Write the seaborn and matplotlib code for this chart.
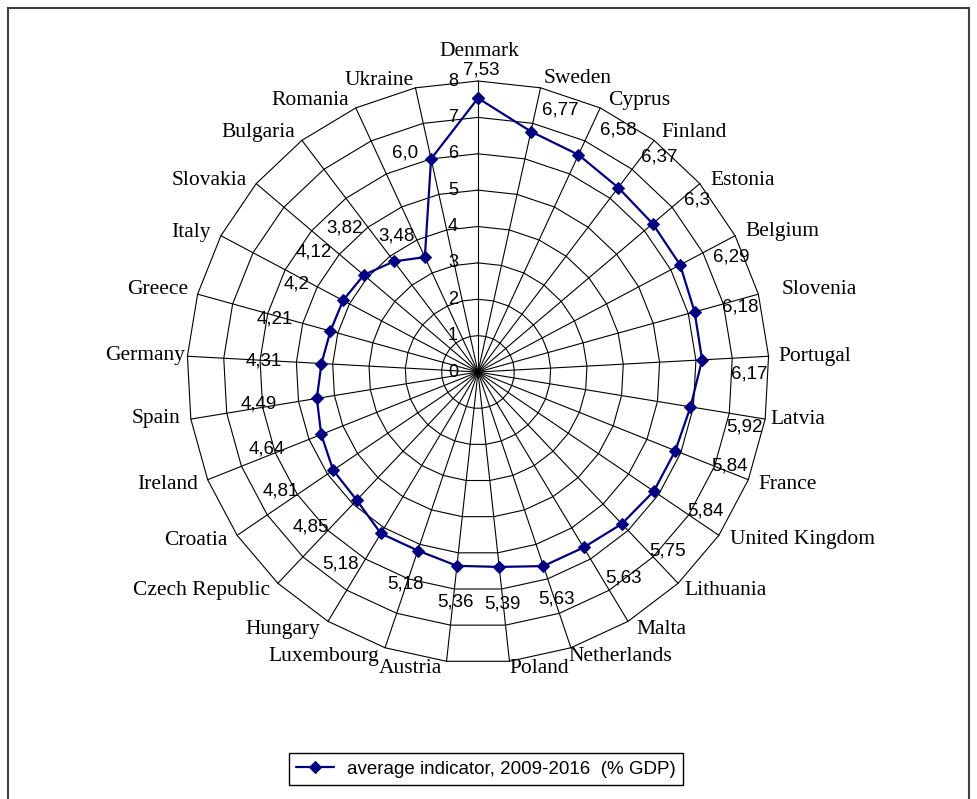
## radar chart: average indicator 2009-2016 (% GDP) per country
import numpy as np
import pandas as pd
import matplotlib
matplotlib.use('Agg')
import matplotlib.pyplot as plt
import matplotlib.transforms as mtransforms
from matplotlib.patches import Rectangle
import seaborn as sns

## data
countries = ['Denmark', 'Sweden', 'Cyprus', 'Finland', 'Estonia', 'Belgium', 'Slovenia',
             'Portugal', 'Latvia', 'France', 'United Kingdom', 'Lithuania', 'Malta',
             'Netherlands', 'Poland', 'Austria', 'Luxembourg', 'Hungary', 'Czech Republic',
             'Croatia', 'Ireland', 'Spain', 'Germany', 'Greece', 'Italy', 'Slovakia',
             'Bulgaria', 'Romania', 'Ukraine']
values = [7.53, 6.77, 6.58, 6.37, 6.30, 6.29, 6.18, 6.17, 5.92, 5.84, 5.84, 5.75, 5.63,
          5.63, 5.39, 5.36, 5.18, 5.18, 4.85, 4.81, 4.64, 4.49, 4.31, 4.21, 4.20, 4.12,
          3.82, 3.48, 6.0]
value_labels = ['7,53', '6,77', '6,58', '6,37', '6,3', '6,29', '6,18', '6,17', '5,92',
                '5,84', '5,84', '5,75', '5,63', '5,63', '5,39', '5,36', '5,18', '5,18',
                '4,85', '4,81', '4,64', '4,49', '4,31', '4,21', '4,2', '4,12', '3,82',
                '3,48', '6,0']
legend_label = 'average indicator, 2009-2016  (% GDP)'

## where the texts sit (degrees clockwise from top, radius in axis units)
name_theta = [0.2, 18.8, 30.6, 42.0, 54.1, 65.3, 76.5, 87.3, 98.4, 110.0, 117.3, 131.4,
              144.6, 153.4, 168.4, 192.9, 208.5, 217.1, 231.6, 239.1, 250.0, 261.7, 272.8,
              284.4, 296.0, 305.5, 317.5, 328.3, 341.3]
name_r = [8.82, 8.51, 8.68, 8.87, 8.99, 9.22, 9.66, 9.27, 8.89, 9.07, 10.05, 9.09, 8.69,
          8.76, 8.33, 8.37, 8.91, 8.88, 9.68, 9.03, 9.07, 8.94, 9.16, 9.08, 8.77, 9.08,
          8.94, 8.78, 8.47]
num_theta = [0.6, 17.4, 30.0, 40.2, 51.9, 65.6, 76.1, 90.4, 101.6, 110.5, 121.4, 133.3,
             144.7, 160.8, 174.1, 185.7, 199.0, 215.7, 227.1, 238.9, 250.0, 261.7, 272.9,
             284.6, 295.8, 306.2, 317.3, 329.2, 341.6]
num_r = [8.30, 7.54, 7.69, 7.74, 7.65, 7.66, 7.42, 7.47, 7.49, 7.39, 7.34, 7.17, 6.94,
         6.60, 6.41, 6.35, 6.16, 6.49, 6.26, 6.32, 6.17, 6.08, 5.89, 5.76, 5.55, 5.58,
         5.39, 4.35, 6.34]

## style
sns.set_style('white')
plt.rcParams['font.family'] = ['Liberation Sans', 'DejaVu Sans']
plt.rcParams['text.color'] = 'black'
navy = '#000080'

fig = plt.figure(figsize=(9.78, 7.99), dpi=100)
ax = fig.add_axes([0.1912, 0.1702, 0.5951, 0.7284], projection='polar')
ax.set_theta_zero_location('N')
ax.set_theta_direction(-1)
ax.set_ylim(0, 8)
ax.grid(False)
ax.set_xticks([])
ax.set_yticks([])
ax.spines['polar'].set_visible(False)

n = len(countries)
theta = np.deg2rad(np.arange(n) * 360.0 / n)
ring_theta = np.r_[theta, theta[0]]

# polygon grid like excel
for k in range(1, 9):
    ax.plot(ring_theta, np.full(n + 1, k), color='black', lw=0.8, clip_on=False, zorder=1)
for a in theta:
    ax.plot([a, a], [0, 8], color='black', lw=0.8, clip_on=False, zorder=1)

# data line
df = pd.DataFrame({'theta': np.r_[theta, 2 * np.pi], 'value': values + values[:1]})
sns.lineplot(data=df, x='theta', y='value', sort=False, estimator=None, ax=ax,
             color=navy, linewidth=1.6, marker='D', markersize=6,
             markeredgecolor=navy, markerfacecolor=navy, label=legend_label, zorder=3)
ax.set_xlabel('')
ax.set_ylabel('')
handles, labels = ax.get_legend_handles_labels()
if ax.get_legend() is not None:
    ax.get_legend().remove()

# radial tick labels left of the top spoke
shift = mtransforms.offset_copy(ax.transData, fig=fig, x=-20, y=0, units='dots')
for k in range(0, 9):
    ax.text(0, k, str(k), transform=shift, ha='right', va='center', fontsize=13,
            color='black')

# country names and value labels
for name, t, r in zip(countries, name_theta, name_r):
    ax.text(np.deg2rad(t), r, name, ha='center', va='center', fontsize=15.5,
            color='black', family=['Liberation Serif', 'DejaVu Serif'])
for lab, t, r in zip(value_labels, num_theta, num_r):
    ax.text(np.deg2rad(t), r, lab, ha='center', va='center', fontsize=13.5, color='black')

leg = fig.legend(handles, labels, loc='center', bbox_to_anchor=(0.497, 0.037),
                 frameon=True, fancybox=False, edgecolor='black', framealpha=1,
                 fontsize=13.5, handlelength=2.0, handletextpad=0.7, borderpad=0.4)
leg.get_frame().set_linewidth(1.0)
for t in leg.get_texts():
    t.set_color('black')

# outer border of the chart area
fig.add_artist(Rectangle((8 / 978, -0.05), (969 - 8) / 978, 1 - 8 / 799 + 0.05,
                         transform=fig.transFigure, fill=False, ec='#404040', lw=1.5))

fig.savefig('out.png', dpi=100)
